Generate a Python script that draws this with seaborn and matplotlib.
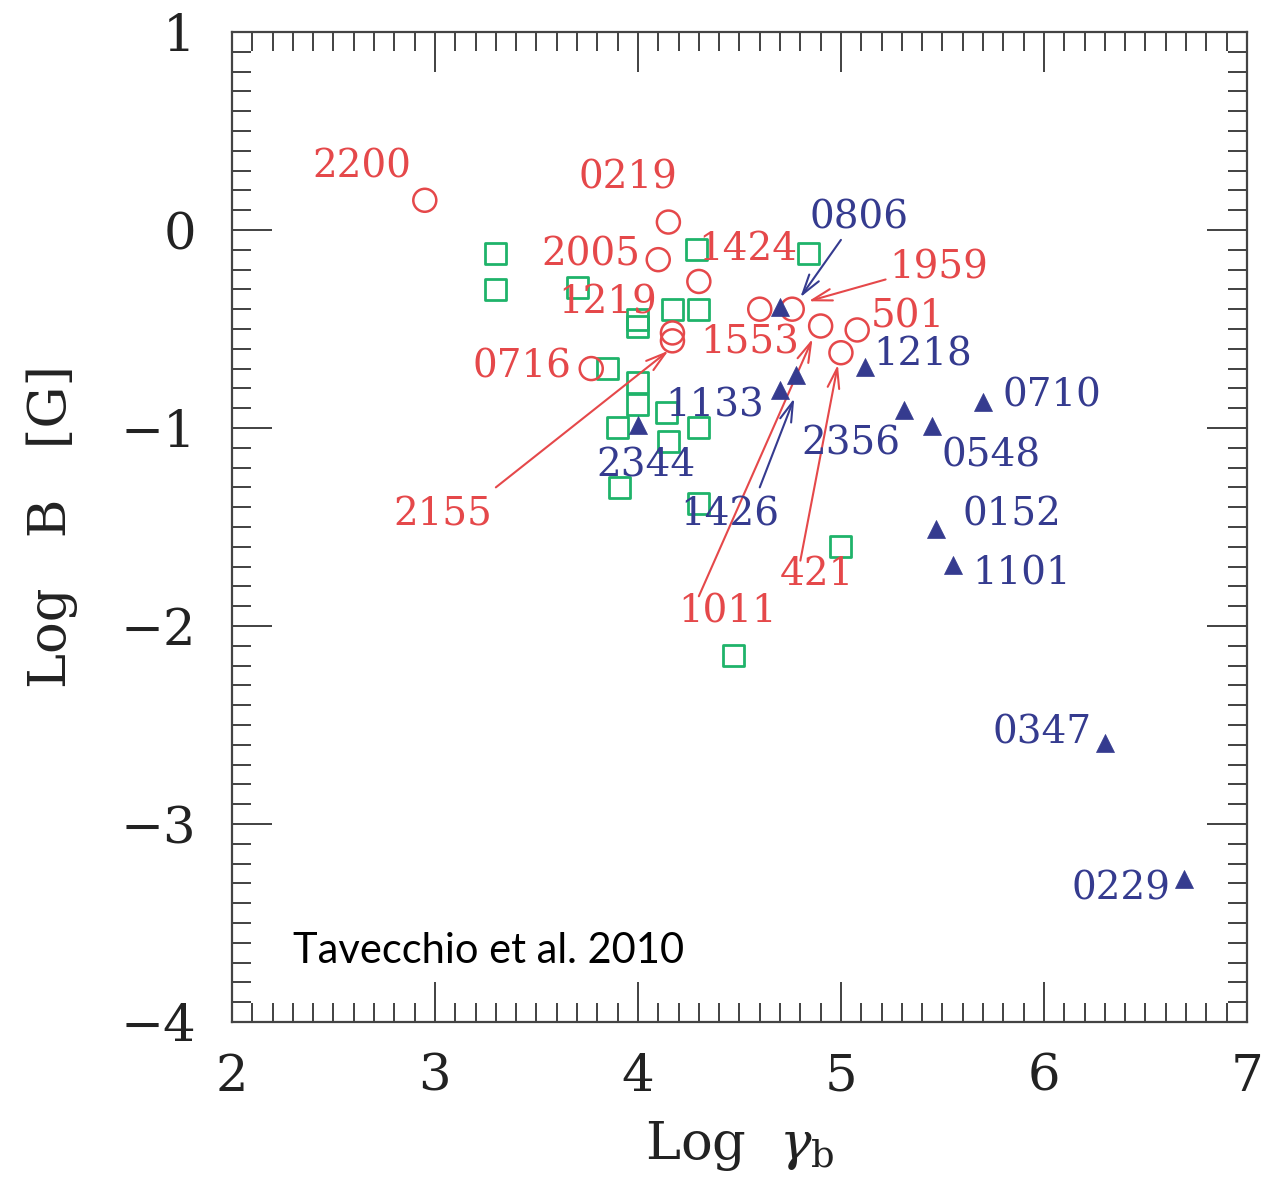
import matplotlib
matplotlib.use("Agg")
import matplotlib.pyplot as plt
import seaborn as sns
import pandas as pd
import numpy as np
from matplotlib.ticker import MultipleLocator

# ---- data (Log gamma_b, Log B) ----
red_x = [2.95, 4.15, 4.10, 4.30, 4.17, 4.17, 3.77, 4.60, 4.76, 4.90, 5.08, 5.00]
red_y = [0.15, 0.04, -0.15, -0.26, -0.52, -0.56, -0.70, -0.40, -0.40, -0.485, -0.505, -0.62]

blue_x = [4.70, 4.78, 4.70, 4.00, 5.12, 5.31, 5.45, 5.70, 5.47, 5.55, 6.30, 6.69]
blue_y = [-0.39, -0.73, -0.81, -0.985, -0.69, -0.91, -0.99, -0.87, -1.51, -1.69, -2.59, -3.28]

green_x = [3.30, 3.30, 3.70, 4.29, 4.84, 4.17, 4.30, 4.00, 4.00, 3.85, 4.00, 4.00,
           4.14, 3.90, 4.30, 4.15, 3.91, 4.30, 5.00, 4.47]
green_y = [-0.12, -0.30, -0.29, -0.10, -0.12, -0.40, -0.40, -0.45, -0.49, -0.70, -0.77, -0.88,
           -0.92, -1.00, -1.00, -1.07, -1.30, -1.38, -1.60, -2.15]

# source labels
red_labels = ["2200", "0219", "2005", "1424", "1959", "1219", "501", "1553", "0716", "2155", "421", "1011"]
red_lx = [2.64, 3.95, 3.77, 4.54, 5.48, 3.85, 5.33, 4.55, 3.43, 3.04, 4.88, 4.44]
red_ly = [0.32, 0.26, -0.125, -0.10, -0.19, -0.37, -0.44, -0.57, -0.69, -1.44, -1.74, -1.93]

blue_labels = ["0806", "1218", "1133", "0710", "2356", "0548", "2344", "1426", "0152", "1101", "0347", "0229"]
blue_lx = [5.09, 5.40, 4.38, 6.04, 5.05, 5.74, 4.04, 4.45, 5.84, 5.89, 5.99, 6.38]
blue_ly = [0.06, -0.63, -0.89, -0.84, -1.08, -1.14, -1.19, -1.44, -1.44, -1.74, -2.54, -3.33]

# arrows: (start x, start y, end x, end y)
red_arrows_from_x = [5.22, 3.30, 4.30, 4.80]
red_arrows_from_y = [-0.25, -1.30, -1.85, -1.67]
red_arrows_to_x = [4.84, 4.15, 4.86, 4.985]
red_arrows_to_y = [-0.36, -0.61, -0.55, -0.68]

blue_arrows_from_x = [5.00, 4.60]
blue_arrows_from_y = [-0.05, -1.30]
blue_arrows_to_x = [4.80, 4.77]
blue_arrows_to_y = [-0.34, -0.85]

RED = "#e5484a"
BLUE = "#353b8f"
GREEN = "#1fb36a"

sns.set_theme(style="ticks")
plt.rcParams["font.family"] = ["DejaVu Serif"]
plt.rcParams["mathtext.fontset"] = "dejavuserif"

fig = plt.figure(figsize=(12.64, 11.89), dpi=100)
ax = fig.add_axes([0.1835, 0.1405, 0.803, 0.8326])

df_red = pd.DataFrame({"x": red_x, "y": red_y})
df_blue = pd.DataFrame({"x": blue_x, "y": blue_y})
df_green = pd.DataFrame({"x": green_x, "y": green_y})

sns.scatterplot(data=df_green, x="x", y="y", marker="s", s=(21 / 1.389)**2,
                facecolor="none", edgecolor=GREEN, linewidth=2.0, ax=ax, zorder=3)
sns.scatterplot(data=df_red, x="x", y="y", marker="o", s=(23 / 1.389)**2,
                facecolor="none", edgecolor=RED, linewidth=1.8, ax=ax, zorder=3)
sns.scatterplot(data=df_blue, x="x", y="y", marker="^", s=(18 / 1.389)**2,
                color=BLUE, edgecolor=BLUE, linewidth=0.5, ax=ax, zorder=4)

for t, x, y in zip(red_labels, red_lx, red_ly):
    ax.text(x, y, t, color=RED, fontsize=28, ha="center", va="center", zorder=5)
for t, x, y in zip(blue_labels, blue_lx, blue_ly):
    ax.text(x, y, t, color=BLUE, fontsize=28, ha="center", va="center", zorder=5)

for x0, y0, x1, y1 in zip(red_arrows_from_x, red_arrows_from_y, red_arrows_to_x, red_arrows_to_y):
    ax.annotate("", xy=(x1, y1), xytext=(x0, y0),
                arrowprops=dict(arrowstyle="->,head_length=1.2,head_width=0.35",
                                color=RED, lw=1.5, shrinkA=0, shrinkB=0))
for x0, y0, x1, y1 in zip(blue_arrows_from_x, blue_arrows_from_y, blue_arrows_to_x, blue_arrows_to_y):
    ax.annotate("", xy=(x1, y1), xytext=(x0, y0),
                arrowprops=dict(arrowstyle="->,head_length=1.2,head_width=0.35",
                                color=BLUE, lw=1.5, shrinkA=0, shrinkB=0))

ax.text(2.30, -3.64, "Tavecchio et al. 2010", fontsize=30, color="black",
        ha="left", va="center", family=["Lato", "DejaVu Sans"], zorder=5)

ax.set_xlim(2, 7)
ax.set_ylim(-4, 1)
ax.xaxis.set_major_locator(MultipleLocator(1))
ax.xaxis.set_minor_locator(MultipleLocator(0.1))
ax.yaxis.set_major_locator(MultipleLocator(1))
ax.yaxis.set_minor_locator(MultipleLocator(0.1))
ax.tick_params(which="both", direction="in", top=True, right=True, colors="#333333",
               labelcolor="#222222")
ax.tick_params(which="major", length=29, width=1.3, labelsize=37)
ax.tick_params(which="minor", length=14, width=1.3)
ax.tick_params(axis="x", which="major", pad=22)
ax.tick_params(axis="y", which="major", pad=26)
for sp in ax.spines.values():
    sp.set_linewidth(1.6)
    sp.set_color("#444444")

ax.set_xlabel(r"Log  $\gamma_{\rm b}$", fontsize=38, color="#222222", labelpad=12)
ax.set_ylabel("Log   B   [G]", fontsize=38, color="#222222", labelpad=30)

fig.savefig("out.png", dpi=100)
